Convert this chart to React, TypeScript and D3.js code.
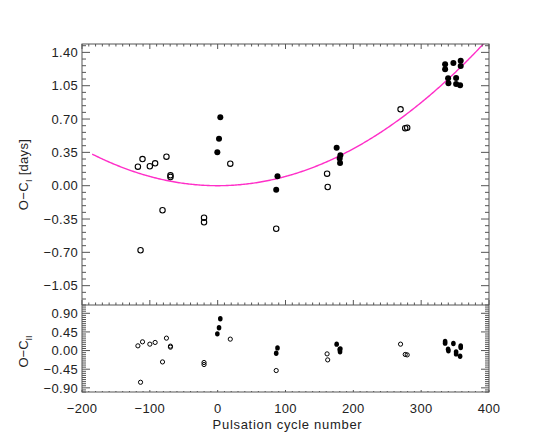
import React from 'react'
import { scaleLinear, line, range } from 'd3'

// pulsation cycle numbers (open = older timings, filled = newer ones)
const openCycle = [-117.6, -110.8, -100, -92.2, -75.5, -69.6, -69.6, -81.3, -113.7, -20.1, -20.1, 18.6, 86.3, 161.3, 162.2, 269.6, 276.5, 279.4]
const openOC1 = [0.2, 0.28, 0.204, 0.235, 0.305, 0.109, 0.091, -0.258, -0.678, -0.336, -0.384, 0.231, -0.452, 0.126, -0.014, 0.802, 0.603, 0.609]
const openOC2 = [0.114, 0.211, 0.155, 0.196, 0.3, 0.107, 0.082, -0.274, -0.765, -0.288, -0.337, 0.276, -0.482, -0.08, -0.225, 0.155, -0.094, -0.104]

const filledCycle = [3.9, 2.0, -0.5, 88.2, 86.3, 175.4, 180.9, 179.9, 180.4, 335.3, 335.3, 347.5, 358.3, 358.3, 339.7, 340.2, 351.5, 351.5, 357.4]
const filledOC1 = [0.718, 0.493, 0.351, 0.099, -0.042, 0.399, 0.319, 0.285, 0.238, 1.275, 1.222, 1.288, 1.312, 1.257, 1.128, 1.075, 1.131, 1.068, 1.054]
const filledOC2 = [0.768, 0.55, 0.404, 0.065, -0.063, 0.155, 0.041, 0.027, -0.031, 0.22, 0.179, 0.172, 0.114, 0.075, 0.034, -0.007, -0.031, -0.08, -0.136]

// quadratic ephemeris fit: c0 + c1*E + c2*E^2
const fitCoeffs = [0, 0, 9.7e-6]
const fitRange = [-185, 400]

const xTicks = [-200, -100, 0, 100, 200, 300, 400]
const topTicks = [-1.05, -0.7, -0.35, 0, 0.35, 0.7, 1.05, 1.4]
const botTicks = [-0.9, -0.45, 0, 0.45, 0.9]

const W = 545
const H = 436
const left = 82
const right = 489
const topY = 44
const midY = 305
const botY = 392
const axisColor = '#555'
const font = '"Liberation Sans", Arial, sans-serif'

const fmt = (v: number) => (v < 0 ? '\u2212' : '') + Math.abs(v).toFixed(2)

const App = () => {
  const x = scaleLinear().domain([-200, 400]).range([left, right])
  const y1 = scaleLinear().domain([-1.253, 1.488]).range([midY, topY])
  const y2 = scaleLinear().domain([-1.0, 1.1]).range([botY, midY])

  const fit = (e: number) => fitCoeffs[0] + fitCoeffs[1] * e + fitCoeffs[2] * e * e
  const curvePts = range(fitRange[0], fitRange[1] + 0.5, 2).map(e => [e, fit(e)] as [number, number])
  const curvePath = line<[number, number]>().x(d => x(d[0])).y(d => y1(d[1]))(curvePts)

  const xMinor = range(-200, 401, 10)

  const xAxisTicks = (yEdge: number, len: number, dir: number, key: string) =>
    xMinor.map(v => {
      const major = v % 100 === 0
      const l = major ? len : len / 2
      return <line key={key + v} x1={x(v)} x2={x(v)} y1={yEdge} y2={yEdge + dir * l} stroke={axisColor} strokeWidth={1} />
    })

  const yAxisTicks = (scale: any, majors: number[], step: number, nMinor: number, key: string) => {
    const [d0, d1] = scale.domain()
    const out: React.ReactNode[] = []
    const k0 = Math.ceil(d0 / step - 1e-6)
    const k1 = Math.floor(d1 / step + 1e-6)
    for (let k = k0; k <= k1; k++) {
      const v = k * step
      const major = k % nMinor === 0
      const l = major ? 8 : 4
      const py = scale(v)
      out.push(<line key={key + 'l' + k} x1={left} x2={left + l} y1={py} y2={py} stroke={axisColor} />)
      out.push(<line key={key + 'r' + k} x1={right} x2={right - l} y1={py} y2={py} stroke={axisColor} />)
    }
    majors.forEach(v =>
      out.push(
        <text key={key + 't' + v} x={left - 4} y={scale(v)} dy="0.36em" textAnchor="end" fontSize={13} fill="#222" fontFamily={font} letterSpacing={0.3}>
          {fmt(v)}
        </text>
      )
    )
    return out
  }

  return (
    <svg width={W} height={H} style={{ position: 'absolute', left: 0, top: 0 }} fontFamily={font}>
      <rect width={W} height={H} fill="#fff" />

      {/* top panel */}
      <clipPath id="clipTop">
        <rect x={left} y={topY} width={right - left} height={midY - topY} />
      </clipPath>
      <path d={curvePath || ''} fill="none" stroke="#ff2fc8" strokeWidth={1.4} clipPath="url(#clipTop)" />
      {openCycle.map((e, i) => (
        <circle key={'o1' + i} cx={x(e)} cy={y1(openOC1[i])} r={2.7} fill="none" stroke="#000" strokeWidth={1.1} />
      ))}
      {filledCycle.map((e, i) => (
        <circle key={'f1' + i} cx={x(e)} cy={y1(filledOC1[i])} r={3} fill="#000" />
      ))}

      {/* bottom panel */}
      {openCycle.map((e, i) => (
        <circle key={'o2' + i} cx={x(e)} cy={y2(openOC2[i])} r={2.1} fill="none" stroke="#000" strokeWidth={1} />
      ))}
      {filledCycle.map((e, i) => (
        <ellipse key={'f2' + i} cx={x(e)} cy={y2(filledOC2[i])} rx={2.3} ry={2.7} fill="#000" />
      ))}

      {/* frames */}
      <rect x={left} y={topY} width={right - left} height={botY - topY} fill="none" stroke={axisColor} />
      <line x1={left} x2={right} y1={midY} y2={midY} stroke={axisColor} />

      {xAxisTicks(topY, 5, 1, 'tt')}
      {xAxisTicks(midY, 5, -1, 'tm')}
      {xAxisTicks(botY, 2, -1, 'bb')}
      {yAxisTicks(y1, topTicks, 0.07, 5, 'y1')}
      {yAxisTicks(y2, botTicks, 0.05, 9, 'y2')}

      {xTicks.map(v => (
        <text key={'xl' + v} x={x(v)} y={413} textAnchor="middle" fontSize={13} fill="#222" letterSpacing={0.3}>
          {fmt(v).replace('.00', '')}
        </text>
      ))}
      <text x={x(100) + 2} y={429} textAnchor="middle" fontSize={13} fill="#222" letterSpacing={0.7}>
        Pulsation cycle number
      </text>

      <text transform={`translate(28, ${(topY + midY) / 2}) rotate(-90)`} textAnchor="middle" fontSize={13} fill="#222" letterSpacing={0.3}>
        O{'\u2212'}C<tspan fontSize={9} dy={4}>I</tspan>
        <tspan dy={-4}> [days]</tspan>
      </text>
      <text transform={`translate(28, ${(midY + botY) / 2 + 3}) rotate(-90)`} textAnchor="middle" fontSize={13} fill="#222">
        O{'\u2212'}C<tspan fontSize={9} dy={4}>II</tspan>
      </text>
    </svg>
  )
}

export default App
